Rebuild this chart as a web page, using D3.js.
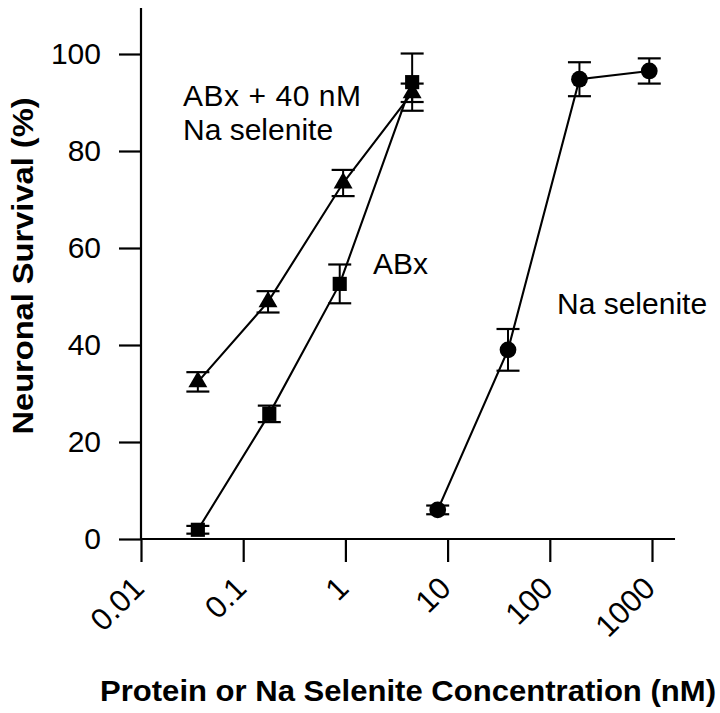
<!DOCTYPE html>
<html>
<head>
<meta charset="utf-8">
<script src="https://cdn.jsdelivr.net/npm/d3@7"></script>
<style>
  body { margin: 0; background: #fff; }
  svg { font-family: "Liberation Sans", Arial, Helvetica, sans-serif; }
</style>
</head>
<body>
<svg id="chart" width="720" height="713"></svg>
<script>
// ABx + 40 nM Na selenite (triangles)
const comboConc = [0.036, 0.175, 0.95, 4.5];
const comboMean = [32.4, 48.9, 73.4, 92.0];
const comboErr  = [2.0, 2.2, 2.7, 1.9];

// ABx (squares)
const abxConc = [0.036, 0.18, 0.88, 4.5];
const abxMean = [1.9, 25.8, 52.6, 94.2];
const abxErr  = [0.8, 1.7, 4.0, 5.9];

// Na selenite (circles)
const seleniteConc = [8, 39, 195, 940];
const seleniteMean = [6.0, 39.0, 94.8, 96.5];
const seleniteErr  = [0.9, 4.3, 3.5, 2.6];

const xTicks = [0.01, 0.1, 1, 10, 100, 1000];
const xTickLabels = ["0.01", "0.1", "1", "10", "100", "1000"];
const yTicks = [0, 20, 40, 60, 80, 100];

const svg = d3.select('#chart');

const x = d3.scaleLog().domain([0.01, 1000]).range([141, 652]);
const y = d3.scaleLinear().domain([0, 100]).range([539, 54]);

// axes
let yAxis = d3.axisLeft(y).tickValues(yTicks).tickSize(22).tickSizeOuter(0).tickPadding(18);
let gy = svg.append('g').attr('transform', 'translate(' + x(0.01) + ',0)').call(yAxis);
gy.select('.domain').remove();
gy.append('line')
    .attr('x1', 0).attr('x2', 0)
    .attr('y1', y(0)).attr('y2', y(109.5))
    .attr('stroke', '#000').attr('stroke-width', 2.2);
gy.selectAll('.tick line').attr('stroke', '#000').attr('stroke-width', 2.2);
gy.selectAll('.tick text')
    .attr('font-size', 30).attr('fill', '#000')
    .attr('font-family', '"Liberation Sans", Arial, sans-serif');

let xAxis = d3.axisBottom(x).tickValues(xTicks).tickSize(23).tickSizeOuter(0).tickFormat('');
let gx = svg.append('g').attr('transform', 'translate(0,' + y(0) + ')').call(xAxis);
gx.select('.domain').remove();
gx.append('line')
    .attr('x1', x(0.01)).attr('x2', x(1680))
    .attr('y1', 0).attr('y2', 0)
    .attr('stroke', '#000').attr('stroke-width', 2.2);
gx.selectAll('.tick line').attr('stroke', '#000').attr('stroke-width', 2.2);

svg.append('g').selectAll('text')
    .data(xTicks)
    .join('text')
    .attr('transform', d => 'translate(' + (x(d) + 5) + ',' + (y(0) + 51) + ') rotate(-45)')
    .attr('text-anchor', 'end')
    .attr('font-size', 31)
    .text((d, i) => xTickLabels[i]);

// axis titles
svg.append('text')
    .attr('transform', 'translate(33,266) rotate(-90)')
    .attr('text-anchor', 'middle')
    .attr('font-size', 30)
    .attr('font-weight', 'bold')
    .attr('textLength', 337)
    .attr('lengthAdjust', 'spacingAndGlyphs')
    .text('Neuronal Survival (%)');

svg.append('text')
    .attr('x', 100).attr('y', 701)
    .attr('font-size', 30)
    .attr('font-weight', 'bold')
    .attr('textLength', 616)
    .attr('lengthAdjust', 'spacingAndGlyphs')
    .text('Protein or Na Selenite Concentration (nM)');

// series
let makeSeries = (conc, mean, err) => conc.map((c, i) => ({ c: c, m: mean[i], e: err[i] }));
let series = [
    { pts: makeSeries(comboConc, comboMean, comboErr), shape: 'triangle' },
    { pts: makeSeries(abxConc, abxMean, abxErr), shape: 'square' },
    { pts: makeSeries(seleniteConc, seleniteMean, seleniteErr), shape: 'circle' }
];

let line = d3.line().x(d => x(d.c)).y(d => y(d.m));
let capHalf = 11.5;

series.forEach(s => {
    svg.append('path')
        .attr('d', line(s.pts))
        .attr('fill', 'none')
        .attr('stroke', '#000')
        .attr('stroke-width', 2.1);
});

series.forEach(s => {
    let g = svg.append('g');
    let eb = g.selectAll('g.eb').data(s.pts).join('g').attr('class', 'eb');
    eb.append('line')
        .attr('x1', d => x(d.c)).attr('x2', d => x(d.c))
        .attr('y1', d => y(d.m - d.e)).attr('y2', d => y(d.m + d.e))
        .attr('stroke', '#000').attr('stroke-width', 2);
    eb.append('line')
        .attr('x1', d => x(d.c) - capHalf).attr('x2', d => x(d.c) + capHalf)
        .attr('y1', d => y(d.m + d.e)).attr('y2', d => y(d.m + d.e))
        .attr('stroke', '#000').attr('stroke-width', 2.2);
    eb.append('line')
        .attr('x1', d => x(d.c) - capHalf).attr('x2', d => x(d.c) + capHalf)
        .attr('y1', d => y(d.m - d.e)).attr('y2', d => y(d.m - d.e))
        .attr('stroke', '#000').attr('stroke-width', 2.2);

    let sym;
    if (s.shape === 'circle') sym = d3.symbol(d3.symbolCircle, 220);
    else if (s.shape === 'square') sym = d3.symbol(d3.symbolSquare, 200);
    else sym = d3.symbol(d3.symbolTriangle, 155);
    g.selectAll('path.mk').data(s.pts).join('path')
        .attr('class', 'mk')
        .attr('transform', d => 'translate(' + x(d.c) + ',' + y(d.m) + ')')
        .attr('d', sym())
        .attr('fill', '#000');
});

// labels
svg.append('text').attr('x', 183).attr('y', 106).attr('font-size', 30).attr('textLength', 178).attr('lengthAdjust', 'spacing').text('ABx + 40 nM');
svg.append('text').attr('x', 183).attr('y', 140).attr('font-size', 30).text('Na selenite');
svg.append('text').attr('x', 373).attr('y', 274).attr('font-size', 30).text('ABx');
svg.append('text').attr('x', 557).attr('y', 314).attr('font-size', 30).text('Na selenite');
</script>
</body>
</html>
